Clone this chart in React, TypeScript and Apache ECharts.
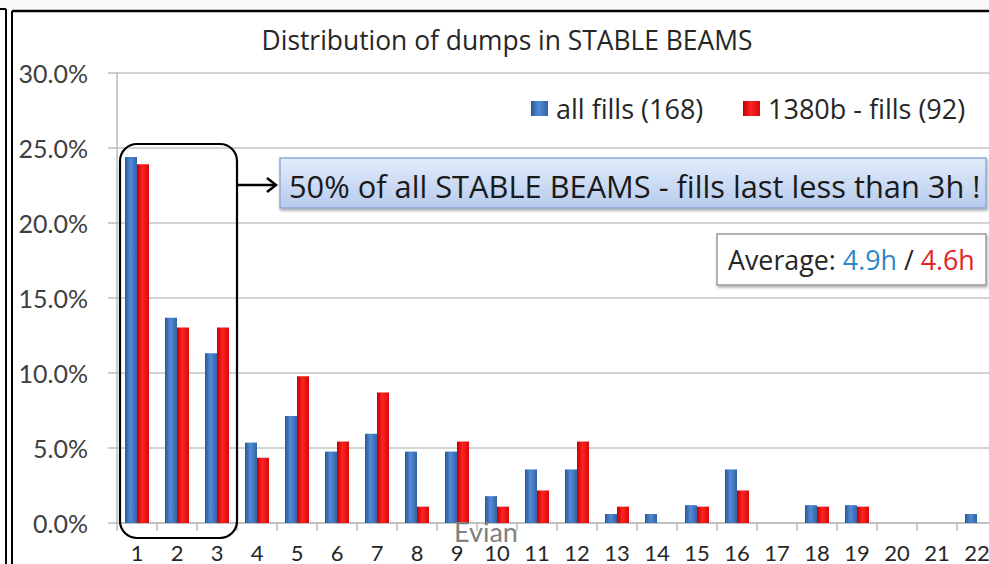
import React, { useEffect, useRef } from "react";
import * as echarts from "echarts";

const categories = ["1","2","3","4","5","6","7","8","9","10","11","12","13","14","15","16","17","18","19","20","21","22"];
const allFills = [24.40, 13.69, 11.31, 5.36, 7.14, 4.76, 5.95, 4.76, 4.76, 1.79, 3.57, 3.57, 0.60, 0.60, 1.19, 3.57, 0, 1.19, 1.19, 0, 0, 0.60];
const fills1380 = [23.91, 13.04, 13.04, 4.35, 9.78, 5.43, 8.70, 1.09, 5.43, 1.09, 2.17, 5.43, 1.09, 0, 1.09, 2.17, 0, 1.09, 1.09, 0, 0, 0];
const seriesNames = ["all fills (168)", "1380b - fills (92)"];
const titleText = "Distribution of dumps in STABLE BEAMS";
const noteText = "50% of all STABLE BEAMS - fills last less than 3h !";
const avgAll = "4.9h";
const avg1380 = "4.6h";
const yTicks = { min: 0, max: 30, interval: 5 };

const FONT = "Lato";
const TFONT = "Open Sans";

export default function App() {
  const ref = useRef<HTMLDivElement>(null);
  useEffect(() => {
    if (!ref.current) return;
    const chart = echarts.init(ref.current, null, { renderer: "svg" });
    const blueGrad = new echarts.graphic.LinearGradient(0, 0, 1, 0, [
      { offset: 0, color: "#2a5893" },
      { offset: 0.45, color: "#4f8bd6" },
      { offset: 1, color: "#3363a6" },
    ]);
    const redGrad = new echarts.graphic.LinearGradient(0, 0, 1, 0, [
      { offset: 0, color: "#c40000" },
      { offset: 0.45, color: "#ff2222" },
      { offset: 1, color: "#d60a0a" },
    ]);
    const legendText = { fontFamily: TFONT, fontSize: 27, color: "#262626", padding: [0, 0, 0, 3] };
    chart.setOption({
      animation: false,
      backgroundColor: "#ffffff",
      textStyle: { fontFamily: FONT },
      grid: { left: 117, top: 73, width: 880, height: 450 },
      legend: [
        {
          data: [seriesNames[0]],
          left: 531, top: 95, padding: 0,
          itemWidth: 17, itemHeight: 15,
          icon: "rect",
          textStyle: legendText,
        },
        {
          data: [seriesNames[1]],
          left: 743, top: 95, padding: 0,
          itemWidth: 17, itemHeight: 15,
          icon: "rect",
          textStyle: legendText,
        },
      ],
      xAxis: {
        type: "category",
        data: categories,
        axisLine: { lineStyle: { color: "#bdbdbd", width: 1.5 } },
        axisTick: { show: true, length: 8, lineStyle: { color: "#bdbdbd", width: 1.5 } },
        axisLabel: { fontFamily: FONT, fontSize: 22, color: "#262626", margin: 18 },
      },
      yAxis: {
        type: "value",
        min: yTicks.min, max: yTicks.max, interval: yTicks.interval,
        axisLine: { show: true, lineStyle: { color: "#bdbdbd", width: 1.5 } },
        axisTick: { show: true, length: 9, lineStyle: { color: "#bdbdbd", width: 1.5 } },
        splitLine: { lineStyle: { color: "#c4c4c4", width: 1.5 } },
        axisLabel: {
          fontFamily: FONT, fontSize: 25, color: "#404040", margin: 29,
          formatter: (v: number) => v.toFixed(1) + "%",
        },
      },
      series: [
        {
          name: seriesNames[0], type: "bar", data: allFills,
          barGap: "0%", barCategoryGap: "40%",
          itemStyle: { color: blueGrad },
        },
        {
          name: seriesNames[1], type: "bar", data: fills1380,
          barGap: "0%", barCategoryGap: "40%",
          itemStyle: { color: redGrad },
        },
      ],
      graphic: [
        { type: "rect", z: 100, shape: { x: 0, y: 0, width: 1020, height: 9 }, style: { fill: "#f8f8f8" } },
        { type: "line", z: 100, shape: { x1: 0, y1: 9, x2: 6, y2: 9 }, style: { stroke: "#000", lineWidth: 2 } },
        { type: "line", z: 100, shape: { x1: 6, y1: 9, x2: 6, y2: 564 }, style: { stroke: "#000", lineWidth: 2 } },
        { type: "line", z: 100, shape: { x1: 12, y1: 11, x2: 1020, y2: 11 }, style: { stroke: "#000", lineWidth: 2.5 } },
        { type: "line", z: 100, shape: { x1: 12, y1: 11, x2: 12, y2: 564 }, style: { stroke: "#000", lineWidth: 2 } },
        {
          type: "text", z: 100, x: 507, y: 40,
          style: { text: titleText, fontFamily: TFONT, fontSize: 26.4, fill: "#262626", align: "center", verticalAlign: "middle" },
        },
        {
          type: "rect", z: 100,
          shape: { x: 120, y: 144, width: 117, height: 394, r: 17 },
          style: { fill: "none", stroke: "#000", lineWidth: 2.2 },
        },
        { type: "line", z: 100, shape: { x1: 237, y1: 185, x2: 276, y2: 185 }, style: { stroke: "#000", lineWidth: 2.5 } },
        { type: "polyline", z: 100, shape: { points: [[267, 178], [276, 185], [267, 192]] }, style: { fill: "none", stroke: "#000", lineWidth: 2.5 } },
        {
          type: "rect", z: 100,
          shape: { x: 280, y: 158, width: 706, height: 50 },
          style: {
            fill: new echarts.graphic.LinearGradient(0, 0, 0, 1, [
              { offset: 0, color: "#e3ecfa" },
              { offset: 1, color: "#b6cbee" },
            ]),
            stroke: "#8fa9d6", lineWidth: 1.5,
            shadowBlur: 3, shadowOffsetX: 1, shadowOffsetY: 2, shadowColor: "rgba(0,0,0,0.35)",
          },
        },
        {
          type: "text", z: 101, x: 289, y: 186,
          style: { text: noteText, fontFamily: TFONT, fontSize: 30.8, fill: "#1a1a1a", align: "left", verticalAlign: "middle" },
        },
        {
          type: "rect", z: 100,
          shape: { x: 717, y: 234, width: 269, height: 51 },
          style: {
            fill: "#ffffff", stroke: "#9a9a9a", lineWidth: 1.5,
            shadowBlur: 3, shadowOffsetX: 1, shadowOffsetY: 2, shadowColor: "rgba(0,0,0,0.3)",
          },
        },
        {
          type: "text", z: 101, x: 728, y: 259,
          style: {
            text: "{a|Average: }{b|" + avgAll + "}{a| / }{c|" + avg1380 + "}",
            align: "left", verticalAlign: "middle",
            rich: {
              a: { fontFamily: TFONT, fontSize: 26.8, fill: "#262626", color: "#262626" },
              b: { fontFamily: TFONT, fontSize: 26.8, fill: "#2e86c8", color: "#2e86c8" },
              c: { fontFamily: TFONT, fontSize: 26.8, fill: "#e02424", color: "#e02424" },
            },
          },
        },
        {
          type: "text", z: 101, x: 486, y: 531,
          style: { text: "Evian", fontFamily: FONT, fontSize: 27, fill: "#808080", align: "center", verticalAlign: "middle" },
        },
      ],
    });
    return () => chart.dispose();
  }, []);
  return (
    <div style={{ position: "fixed", left: 0, top: 0, width: 989, height: 564, overflow: "hidden", background: "#fff" }}>
      <div ref={ref} style={{ width: 1020, height: 564 }} />
    </div>
  );
}
